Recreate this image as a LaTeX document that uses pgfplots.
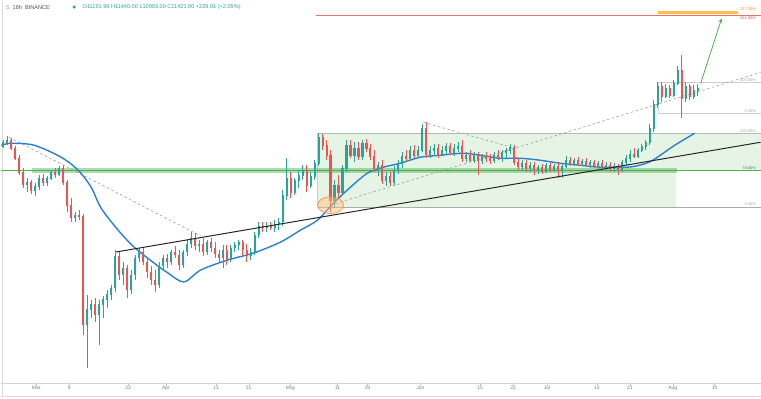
\documentclass[border=0pt]{standalone}
\usepackage{fontspec}
\setmainfont{Liberation Sans}
\usepackage{pgfplots}
\usepackage{pgfplotstable}
\pgfplotsset{compat=1.18}
\definecolor{upc}{RGB}{38,166,154}
\definecolor{dnc}{RGB}{239,83,80}
\definecolor{maline}{RGB}{41,128,210}
\definecolor{fibg}{RGB}{76,175,80}
\definecolor{txtg}{RGB}{120,123,134}

% candles: x, open, high (top), low (bottom), close -- vertical values measured downward
\pgfplotstableread{
x o h l c
2 146 140 148 142
6 142 136 145 140
10 140 138 150 148
14 148 146 160 158
18 158 155 175 172
22 172 168 188 184
26 184 178 192 182
30 182 180 194 190
34 190 183 196 186
38 186 175 190 178
42 178 174 186 182
46 182 176 186 178
50 178 170 180 172
54 172 168 178 174
58 174 166 176 168
62 168 165 185 182
66 182 180 212 205
70 205 198 222 218
74 218 212 222 215
78 215 210 220 216
82 216 214 335 325
86 325 295 368 310
90 310 300 318 305
94 305 298 322 315
98 315 300 345 305
102 305 296 318 300
106 300 290 308 295
110 295 285 300 288
114 288 250 292 256
118 256 252 280 275
122 275 262 285 268
126 268 265 298 290
130 290 270 294 275
134 275 255 280 258
138 258 248 262 252
142 252 248 265 262
146 262 258 278 272
150 272 266 285 280
154 280 270 292 285
158 285 262 288 266
162 266 255 270 258
166 258 254 268 262
170 262 250 265 252
174 252 246 258 255
178 255 250 270 265
182 265 250 268 252
186 252 240 256 244
190 244 232 248 238
194 238 233 250 246
198 246 240 252 244
202 244 238 256 252
206 252 240 255 242
210 242 238 252 248
214 248 242 258 254
218 254 250 262 258
222 258 245 268 250
226 250 245 265 260
230 260 245 262 248
234 248 242 252 245
238 245 240 250 242
242 242 240 255 250
246 250 244 262 256
250 256 248 260 252
254 252 232 255 235
258 235 222 238 226
262 226 222 232 228
266 228 222 232 226
270 226 222 230 228
274 228 220 232 224
278 224 218 230 222
282 222 190 226 195
286 195 158 200 178
290 178 172 198 192
294 192 178 195 180
298 180 170 188 175
302 175 165 180 170
306 170 165 192 185
310 185 172 188 176
314 176 160 180 163
318 163 133 166 137
322 137 134 150 145
326 145 140 160 155
330 155 150 212 200
334 200 180 208 185
338 185 175 198 192
342 192 165 195 168
346 168 140 172 145
350 145 140 158 155
354 155 142 162 148
358 148 142 160 156
362 156 140 160 143
366 143 139 152 148
370 148 144 160 156
374 156 150 172 168
378 168 162 176 165
382 165 160 184 180
386 180 172 186 176
390 176 172 186 182
394 182 166 185 170
398 170 160 174 163
402 163 152 168 156
406 156 150 162 158
410 158 146 160 150
414 150 145 158 155
418 155 146 158 150
422 150 124 152 128
426 128 122 158 154
430 154 146 158 150
434 150 144 156 148
438 148 144 158 154
442 154 146 156 150
446 150 143 154 146
450 146 143 155 152
454 152 144 156 148
458 148 142 152 146
462 146 140 162 158
466 158 152 162 155
470 155 150 162 160
474 160 152 163 155
478 155 152 175 160
482 160 154 164 156
486 156 152 162 158
490 158 154 164 160
494 160 152 163 155
498 155 150 160 158
502 158 150 162 152
506 152 148 158 150
510 150 144 154 147
514 147 145 165 162
518 162 158 170 166
522 166 160 170 163
526 163 160 172 168
530 168 162 172 165
534 165 162 175 170
538 170 165 174 167
542 167 164 174 171
546 171 163 173 165
550 165 162 172 169
554 169 164 172 166
558 166 162 178 170
562 170 163 178 166
566 166 156 168 160
570 160 157 166 163
574 163 158 166 160
578 160 157 166 163
582 163 159 166 161
586 161 158 166 164
590 164 160 168 162
594 162 160 168 165
598 165 161 169 163
602 163 160 170 167
606 167 162 170 165
610 165 162 172 168
614 168 163 172 166
618 166 164 175 170
622 170 160 172 162
626 162 155 165 158
630 158 150 162 154
634 154 148 158 156
638 156 148 158 150
642 150 144 152 146
646 146 140 150 142
650 142 124 145 128
654 128 100 132 104
658 104 82 108 86
662 86 82 102 96
666 96 84 98 88
670 88 85 98 95
674 95 80 97 83
678 83 66 85 70
682 70 55 118 98
686 98 82 102 86
690 86 84 100 96
694 96 85 99 90
698 90 84 96 88
}\candles

\begin{document}
\begin{tikzpicture}
\begin{axis}[
  scale only axis, width=761pt, height=384pt,
  xmin=0, xmax=761, ymin=0, ymax=384, y dir=reverse,
  axis line style={draw=none},
  ytick=\empty,
  xtick={35,68,127,165,215,248,290,337,367,420,480,513,547,597,630,673,715},
  xticklabels={Mar,9,23,Apr,13,21,May,11,19,Jun,15,22,Jul,13,21,Aug,10},
  xticklabel style={font=\fontsize{5}{6}\selectfont, text=txtg, yshift=1pt},
  major tick length=0pt,
  clip=false,
]
% frame / bottom strip
\path (axis cs:0,0) rectangle (axis cs:761,399);
\draw[gray!35, line width=0.6pt] (axis cs:0,384) -- (axis cs:761,384);
\draw[gray!30, line width=0.6pt] (axis cs:0,397) -- (axis cs:761,397);
\draw[gray!30, line width=1.2pt] (axis cs:1,0) -- (axis cs:1,397);
\pgfplotsinvokeforeach{35,68,127,165,215,248,290,337,367,420,480,513,547,597,630,673,715}
  {\draw[gray!45, line width=0.4pt] (axis cs:#1,384) -- (axis cs:#1,386.5);}

% fib / box shading
\fill[fibg, opacity=0.14] (axis cs:317,133) rectangle (axis cs:761,170);
\fill[fibg, opacity=0.14] (axis cs:317,170) rectangle (axis cs:676,207);
\draw[gray!55, line width=0.6pt] (axis cs:317,133) -- (axis cs:761,133);
\draw[gray!65, line width=0.7pt] (axis cs:317,207) -- (axis cs:761,207);
\draw[gray!40, line width=0.5pt] (axis cs:317,133) -- (axis cs:317,207);
% support band
\fill[fibg, opacity=0.45] (axis cs:31,167.5) rectangle (axis cs:677,173);
\draw[fibg, line width=0.7pt] (axis cs:0,170) -- (axis cs:761,170);
% upper fib lines
\draw[gray!40, line width=0.5pt] (axis cs:658,82) -- (axis cs:761,82);
\draw[gray!40, line width=0.5pt] (axis cs:658,113) -- (axis cs:761,113);
\draw[gray!30, line width=0.4pt] (axis cs:658,82) -- (axis cs:658,113);
\draw[dnc!85, line width=0.7pt] (axis cs:315,14.5) -- (axis cs:761,14.5);
\fill[orange!70!yellow, opacity=0.7] (axis cs:658,10.5) rectangle (axis cs:738,13);

% labels of levels
\begin{scope}[font=\fontsize{4}{5}\selectfont]
\node[anchor=east, text=orange] at (axis cs:760,8.5) {127.20\%};
\node[anchor=east, text=dnc] at (axis cs:760,17.5) {261.80\%};
\node[anchor=east, text=gray!70] at (axis cs:760,80) {100.00\%};
\node[anchor=east, text=gray!70] at (axis cs:760,110.5) {0.00\%};
\node[anchor=east, text=gray!70] at (axis cs:760,131) {100.00\%};
\node[anchor=east, text=fibg!80!black] at (axis cs:760,167.5) {78.60\%};
\node[anchor=east, text=gray!70] at (axis cs:760,204.5) {0.00\%};
\end{scope}

% header
\node[anchor=west, font=\fontsize{5.6}{6.5}\selectfont, text=black!70] at (axis cs:1,6.5) {\textcolor{black!40}{S}\ \ 16h\ \ BINANCE};
\fill[upc] (axis cs:73,6.5) circle [radius=1.7pt];
\node[anchor=west, font=\fontsize{5.6}{6.5}\selectfont, text=upc] at (axis cs:78,6.5) {O11191.99\ H11440.00\ L10993.00\ C11421.00\ +229.01 (+2.05\%)};

% dashed trend lines
\addplot[gray!80, line width=0.6pt, dash pattern=on 2.5pt off 2.5pt] coordinates {(8,137) (200,236)};
\addplot[gray!80, line width=0.6pt, dash pattern=on 2.5pt off 2.5pt] coordinates {(330,205) (761,72)};
\addplot[gray!80, line width=0.6pt, dash pattern=on 2.5pt off 2.5pt] coordinates {(423,122) (515,148)};

% moving average
\addplot[maline, line width=1.4pt, smooth, tension=0.5] coordinates {
(0,145) (10,143) (33,145) (60,157) (77,170) (90,187) (100,208) (117,230) (133,247)
(153,263) (167,273) (183,282) (200,270) (227,260) (253,253) (280,242) (300,230)
(317,220) (333,203) (350,187) (367,173) (383,167) (400,163) (420,157) (440,155)
(463,153) (480,155) (500,158) (520,158) (540,160) (560,163) (580,165) (600,167)
(627,167) (640,165) (653,160) (675,145) (695,133)};

% wicks
\addplot[draw=none, forget plot, restrict expr to domain={\thisrow{o}-\thisrow{c}}{0:1000},
  error bars/.cd, y dir=both, y explicit, error mark=none,
  error bar style={draw=upc, line width=0.6pt}]
  table[x=x, y expr={(\thisrow{h}+\thisrow{l})/2}, y error expr={(\thisrow{l}-\thisrow{h})/2}] {\candles};
\addplot[draw=none, forget plot, restrict expr to domain={\thisrow{o}-\thisrow{c}}{-1000:-0.001},
  error bars/.cd, y dir=both, y explicit, error mark=none,
  error bar style={draw=dnc, line width=0.6pt}]
  table[x=x, y expr={(\thisrow{h}+\thisrow{l})/2}, y error expr={(\thisrow{l}-\thisrow{h})/2}] {\candles};
% bodies
\addplot[draw=none, forget plot, restrict expr to domain={\thisrow{o}-\thisrow{c}}{0:1000},
  error bars/.cd, y dir=both, y explicit, error mark=none,
  error bar style={draw=upc, line width=2.1pt, line cap=butt}]
  table[x=x, y expr={(\thisrow{o}+\thisrow{c})/2}, y error expr={abs(\thisrow{o}-\thisrow{c})/2+0.4}] {\candles};
\addplot[draw=none, forget plot, restrict expr to domain={\thisrow{o}-\thisrow{c}}{-1000:-0.001},
  error bars/.cd, y dir=both, y explicit, error mark=none,
  error bar style={draw=dnc, line width=2.1pt, line cap=butt}]
  table[x=x, y expr={(\thisrow{o}+\thisrow{c})/2}, y error expr={abs(\thisrow{o}-\thisrow{c})/2+0.4}] {\candles};

% main rising trendline
\addplot[black!85, line width=1pt] coordinates {(115,252) (761,142)};

% ellipse at retest
\draw[orange!80!brown, fill=orange!50, fill opacity=0.45, line width=0.5pt] (axis cs:330,205) ellipse [x radius=13, y radius=8.5];

% projected move arrow
\draw[-{stealth}, fibg, line width=0.8pt] (axis cs:701,83) -- (axis cs:722,18);
\end{axis}
\end{tikzpicture}
\end{document}
